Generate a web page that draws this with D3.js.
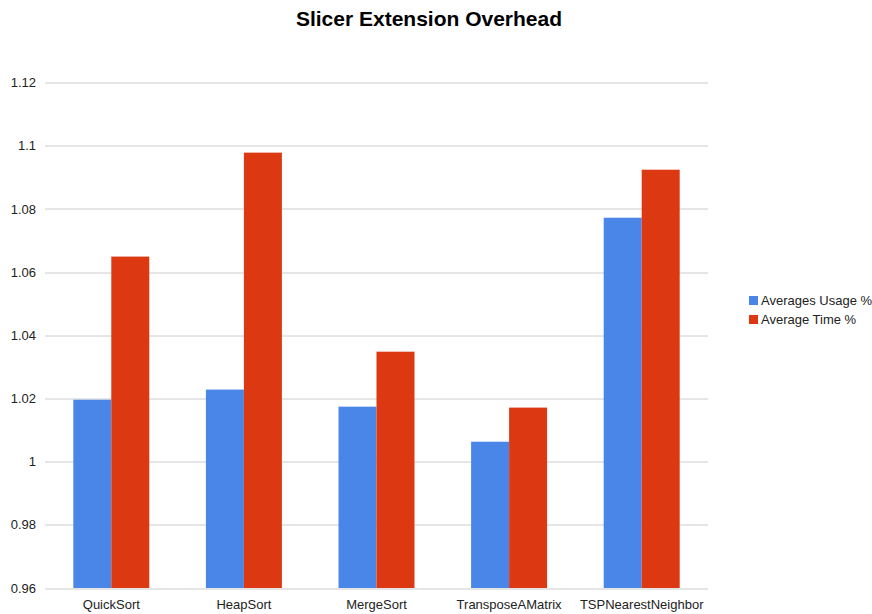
<!DOCTYPE html>
<html>
<head>
<meta charset="utf-8">
<script src="https://cdn.jsdelivr.net/npm/d3@7"></script>
<style>
  body { margin: 0; background: #fff; }
  text { font-family: "Liberation Sans", Arial, sans-serif; }
</style>
</head>
<body>
<div class="chart"></div>
<script>
// data
const categories = ["QuickSort", "HeapSort", "MergeSort", "TransposeAMatrix", "TSPNearestNeighbor"];
const seriesNames = ["Averages Usage %", "Average Time %"];
const usageValues = [1.0196, 1.0228, 1.0174, 1.0063, 1.0772];
const timeValues = [1.0649, 1.0978, 1.0348, 1.0171, 1.0924];
const yTicks = [0.96, 0.98, 1, 1.02, 1.04, 1.06, 1.08, 1.1, 1.12];
const colors = ["#4a86e8", "#dc3912"];

const W = 872, H = 614;
const margin = {top: 82.5, right: 164, bottom: 26, left: 45};
const width = W - margin.left - margin.right;
const height = H - margin.top - margin.bottom;

const svg = d3.select("div.chart").append("svg")
  .attr("width", W)
  .attr("height", H);

const g = svg.append("g")
  .attr("transform", `translate(${margin.left},${margin.top})`);

const x = d3.scaleBand()
  .domain(categories)
  .range([0, width])
  .paddingInner(0.427)
  .paddingOuter(0.2135);

const xs = d3.scaleBand()
  .domain(seriesNames)
  .range([0, x.bandwidth()]);

const y = d3.scaleLinear()
  .domain([0.96, 1.12])
  .range([height, 0]);

// gridlines
g.append("g")
  .selectAll("line")
  .data(yTicks)
  .enter()
  .append("line")
  .attr("x1", 0)
  .attr("x2", width)
  .attr("y1", d => Math.round(y(d)) + 0.5)
  .attr("y2", d => Math.round(y(d)) + 0.5)
  .attr("stroke", "#cccccc")
  .attr("stroke-width", 1);

// y tick labels
const yAxis = g.append("g")
  .call(d3.axisLeft(y).tickValues(yTicks).tickSize(0).tickPadding(9).tickFormat(d3.format("")));
yAxis.select(".domain").remove();
yAxis.selectAll("text")
  .style("font-family", "'Liberation Sans', Arial, sans-serif")
  .style("font-size", "13px")
  .attr("fill", "#222");

// bars
const rows = categories.map((c, i) => ({cat: c, vals: [usageValues[i], timeValues[i]]}));
const groups = g.selectAll("g.grp")
  .data(rows)
  .enter()
  .append("g")
  .attr("class", "grp")
  .attr("transform", d => `translate(${x(d.cat)},0)`);

groups.selectAll("rect")
  .data(d => d.vals.map((v, k) => ({name: seriesNames[k], v: v, k: k})))
  .enter()
  .append("rect")
  .attr("x", d => xs(d.name))
  .attr("width", xs.bandwidth())
  .attr("y", d => y(d.v))
  .attr("height", d => height - y(d.v))
  .attr("fill", d => colors[d.k]);

// x labels
const xAxis = g.append("g")
  .attr("transform", `translate(0,${height})`)
  .call(d3.axisBottom(x).tickSize(0).tickPadding(12));
xAxis.select(".domain").remove();
xAxis.selectAll("text")
  .style("font-family", "'Liberation Sans', Arial, sans-serif")
  .style("font-size", "13px")
  .attr("fill", "#222");

// title
svg.append("text")
  .attr("x", 429)
  .attr("y", 26)
  .attr("text-anchor", "middle")
  .style("font-size", "21px")
  .style("font-weight", "bold")
  .text("Slicer Extension Overhead");

// legend
const legend = svg.append("g")
  .attr("transform", "translate(749,296)");
seriesNames.forEach((name, i) => {
  legend.append("rect")
    .attr("x", 0)
    .attr("y", i * 19)
    .attr("width", 9)
    .attr("height", 9)
    .attr("fill", colors[i]);
  legend.append("text")
    .attr("x", 12)
    .attr("y", i * 19 + 9)
    .style("font-size", "13px")
    .attr("fill", "#222")
    .text(name);
});
</script>
</body>
</html>
